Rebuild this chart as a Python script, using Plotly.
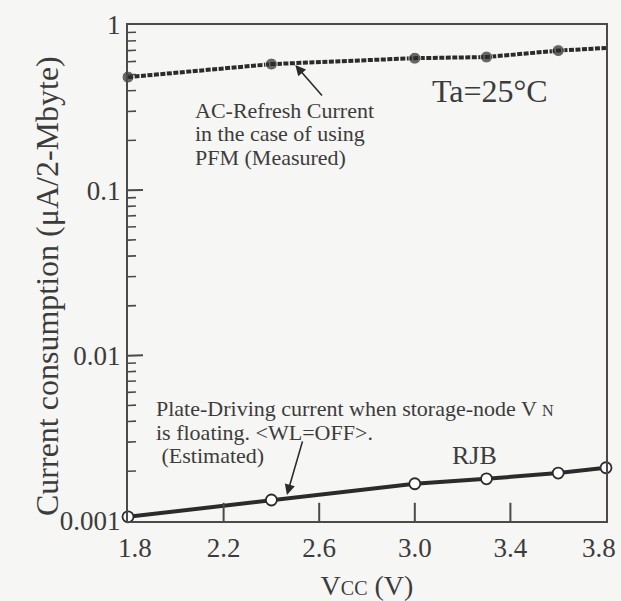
import plotly.graph_objects as go

# ---- data ----
vcc_ac = [1.8, 2.4, 3.0, 3.3, 3.6, 3.8]
ac_refresh = [0.484, 0.58, 0.63, 0.64, 0.70, 0.726]
ac_marker_shown = [True, True, True, True, True, False]

vcc_pd = [1.8, 2.4, 3.0, 3.3, 3.6, 3.8]
plate_driving = [0.00106, 0.00134, 0.00168, 0.0018, 0.00195, 0.0021]

x_ticks = [1.8, 2.2, 2.6, 3.0, 3.4, 3.8]
x_tick_labels = ["\u00a0\u00a01.8", "2.2", "2.6", "3.0", "3.4", ""]
last_x_label = "3.8"
y_ticks = [0.001, 0.01, 0.1, 1]
y_tick_labels = ["0.001", "0.01", "0.1", "1"]
y_minor = [m * d for d in (0.001, 0.01, 0.1) for m in range(2, 10)]

X_MIN, X_MAX = 1.8, 3.8
Y_MIN, Y_MAX = 0.001, 1

FONT = "Liberation Serif"
INK = "#2b2b2b"
TXT = "#3c3c3c"
AXC = "#4a4a4a"
BG = "#f6f6f4"

# plot-area geometry in pixels (for placing notes)
L, R, T, B = 128, 606, 25, 521
V_PER_PX = (X_MAX - X_MIN) / (R - L)
DEC_PER_PX = 3.0 / (B - T)

fig = go.Figure()

fig.add_trace(go.Scatter(
    x=vcc_ac, y=ac_refresh, mode="lines+markers",
    line=dict(color=INK, width=4, dash="5px,1.5px"),
    marker=dict(color=INK, size=[12 if s else 0 for s in ac_marker_shown], symbol="circle"),
    cliponaxis=False, showlegend=False,
))
fig.add_trace(go.Scatter(
    x=vcc_pd, y=plate_driving, mode="lines+markers",
    line=dict(color=INK, width=4),
    marker=dict(color="white", size=11, symbol="circle", line=dict(color=INK, width=1.8)),
    cliponaxis=False, showlegend=False,
))

# inside tick marks on the x axis: line markers centred on the axis line, half clipped
inner_x = x_ticks[1:-1]
fig.add_trace(go.Scatter(
    x=inner_x, y=[Y_MIN] * len(inner_x), mode="markers", cliponaxis=True,
    marker=dict(symbol="line-ns", size=26, line=dict(color=AXC, width=2)),
    hoverinfo="skip", showlegend=False,
))

# inside tick marks on the y axis: one short segment per tick value
def add_y_tick(v, length_px, width):
    fig.add_trace(go.Scatter(
        x=[X_MIN, X_MIN + length_px * V_PER_PX],
        y=[v, v * 10 ** (0.3 * DEC_PER_PX)],
        mode="lines", line=dict(color=AXC, width=width),
        cliponaxis=False, hoverinfo="skip", showlegend=False,
    ))

for v in y_ticks[1:-1]:
    add_y_tick(v, 15, 2)
for v in y_minor:
    add_y_tick(v, 8, 1.6)

def px(xp):
    return (xp - L) / (R - L)
def py(yp):
    return (B - yp) / (B - T)

annots = []
def note(text, xp, yp, size, anchor="left", angle=0):
    annots.append(dict(text=text, x=px(xp), y=py(yp), xref="paper", yref="paper",
                       xanchor=anchor, yanchor="middle", showarrow=False, textangle=angle,
                       font=dict(family=FONT, size=size, color=TXT)))

note("Ta=25°C", 430, 91, 32)
note("AC-Refresh Current", 193, 110, 22)
note("in the case of using", 193, 133, 22)
note("PFM (Measured)", 193, 157, 22)
note("Plate-Driving current when storage-node V <span style='font-size:16px'>N</span>", 154, 408, 22)
note("is floating. &lt;WL=OFF&gt;.", 154, 432, 22)
note(" (Estimated)", 154, 455, 22)
note("RJB", 474, 455, 26, anchor="center")
# y-axis title
note("Current consumption (μA/2-Mbyte)", 47, 286, 32, anchor="center", angle=-90)

# last x tick label, nudged inward like the original
annots.append(dict(text=last_x_label, x=x_ticks[-1], xref="x", y=0, yref="paper",
                   xanchor="center", yanchor="middle", xshift=-7, yshift=-27,
                   showarrow=False, font=dict(family=FONT, size=27, color=TXT)))

# arrows (head in data coords, tail offset in px)
annots.append(dict(x=2.5, y=-0.242, xref="x", yref="y", text="", showarrow=True,
                   ax=28, ay=32, arrowhead=2, arrowsize=1.3, arrowwidth=1.6, arrowcolor=INK))
annots.append(dict(x=2.465, y=-2.842, xref="x", yref="y", text="", showarrow=True,
                   ax=16, ay=-55, arrowhead=2, arrowsize=1.3, arrowwidth=1.6, arrowcolor=INK))

fig.update_layout(
    template="none",
    width=621, height=601,
    margin=dict(l=L, r=621 - R, t=T, b=601 - B),
    paper_bgcolor=BG, plot_bgcolor=BG,
    font=dict(family=FONT, color=TXT),
    annotations=annots,
    xaxis=dict(
        range=[X_MIN, X_MAX], tickmode="array", tickvals=x_ticks, ticktext=x_tick_labels,
        ticks="", automargin=False, ticklabeloverflow="allow",
        showline=True, linecolor=AXC, linewidth=2, mirror=True, showgrid=False, zeroline=False,
        tickfont=dict(family=FONT, size=27, color=TXT), ticklabelstandoff=2,
        title=dict(text="V<span style='font-size:20px'>CC</span> (V)", standoff=25,
                   font=dict(family=FONT, size=28, color=TXT)),
    ),
    yaxis=dict(
        type="log", range=[-3, 0], tickmode="array", tickvals=y_ticks, ticktext=y_tick_labels,
        ticks="", automargin=False, ticklabeloverflow="allow",
        showline=True, linecolor=AXC, linewidth=2, mirror=True, showgrid=False, zeroline=False,
        tickfont=dict(family=FONT, size=27, color=TXT),
    ),
)

fig.write_html("out.html", config={"displayModeBar": False},
               post_script="document.body.style.margin='0px';")
